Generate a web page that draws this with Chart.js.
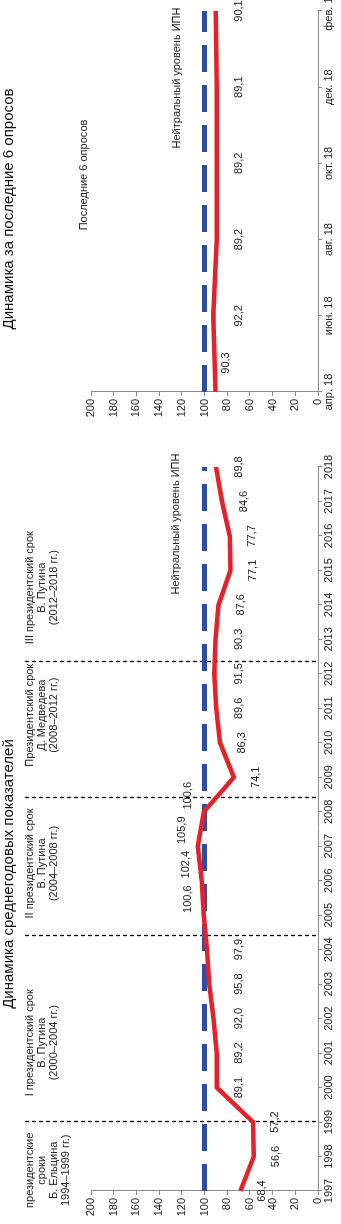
<!DOCTYPE html>
<html>
<head>
<meta charset="utf-8">
<script src="https://cdn.jsdelivr.net/npm/chart.js@4.4.1/dist/chart.umd.min.js"></script>
<style>
html, body { margin: 0; padding: 0; background: #fff; overflow: hidden; }
/* the sheet is laid out landscape and turned a quarter to the left */
#sheet { position: absolute; left: 0; top: 0; width: 1224px; height: 341px;
  transform-origin: 0 0; transform: translate(0, 1224px) rotate(-90deg); background: #fff; }
#sheet canvas { position: absolute; top: 0; }
</style>
</head>
<body>
<div id="sheet">
  <canvas id="yearly" width="780" height="341" style="left:0"></canvas>
  <canvas id="recent" width="444" height="341" style="left:780px"></canvas>
</div>
<script>
// среднегодовые значения ИПН
var years = ['1997','1998','1999','2000','2001','2002','2003','2004','2005','2006','2007',
             '2008','2009','2010','2011','2012','2013','2014','2015','2016','2017','2018'];
var yearValues = [68.4, 56.6, 57.2, 89.1, 89.2, 92.0, 95.8, 97.9, 100.6, 102.4, 105.9,
                  100.6, 74.1, 86.3, 89.6, 91.5, 90.3, 87.6, 77.1, 77.7, 84.6, 89.8];
var yearNeutral = [100, 100, 100, 100, 100, 100, 100, 100, 100, 100, 100,
                   100, 100, 100, 100, 100, 100, 100, 100, 100, 100, 100];

// последние 6 опросов
var polls = ['апр. 18', 'июн. 18', 'авг. 18', 'окт. 18', 'дек. 18', 'фев. 18'];
var pollValues = [90.3, 92.2, 89.2, 89.2, 89.1, 90.1];
var pollNeutral = [100, 100, 100, 100, 100, 100];

var yTicks = [0, 20, 40, 60, 80, 100, 120, 140, 160, 180, 200];

// президентские сроки
var termLabels = [
  ['президентские', 'сроки', 'Б. Ельцина', '1994–1999 гг.)'],
  ['I президентский срок', 'В. Путина', '(2000–2004 гг.)'],
  ['II президентский срок', 'В. Путина', '(2004–2008 гг.)'],
  ['Президентский срок', 'Д. Медведева', '(2008–2012 гг.)'],
  ['III президентский срок', 'В. Путина', '(2012–2018 гг.)']
];
var termBounds = [1999, 2004.4, 2008.4, 2012.35];

var titleYearly = 'Динамика среднегодовых показателей';
var titleRecent = 'Динамика за последние 6 опросов';
var noteRecent = 'Последние 6 опросов';
var noteNeutral = 'Нейтральный уровень ИПН';

var FONT = '"Liberation Sans", Arial, sans-serif';
var RED = '#e6212a';
var BLUE = '#2d4e9e';
var AXIS = '#8a8a8a';

Chart.defaults.font.family = FONT;
Chart.defaults.font.size = 11;
Chart.defaults.color = '#222';

function fmt(v) { return v.toFixed(1).replace('.', ','); }

// dashed separators, value labels and free text
var overlay = {
  id: 'overlay',
  beforeDatasetsDraw: function(chart, args, o) {
    if (!o.bounds) return;
    var ctx = chart.ctx, sx = chart.scales.x, bottom = chart.chartArea.bottom;
    ctx.save();
    ctx.strokeStyle = '#000';
    ctx.lineWidth = 1.3;
    ctx.setLineDash([4, 3]);
    o.bounds.forEach(function(b) {
      var px = Math.round(sx.getPixelForValue(b)) + 0.5;
      ctx.beginPath();
      ctx.moveTo(px, 25);
      ctx.lineTo(px, bottom);
      ctx.stroke();
    });
    ctx.restore();
  },
  afterDatasetsDraw: function(chart, args, o) {
    var ctx = chart.ctx;
    var meta = chart.getDatasetMeta(0);
    var vals = chart.data.datasets[0].data;
    var floor = chart.scales.y.getPixelForValue(100) + 34;
    ctx.save();
    ctx.fillStyle = '#222';
    ctx.font = '11px ' + FONT;
    ctx.textAlign = 'center';
    ctx.textBaseline = 'middle';
    meta.data.forEach(function(pt, i) {
      var x = pt.x, y;
      if (o.above && o.above.indexOf(i) >= 0) {
        x += 16; y = pt.y - 16;
      } else if (o.nudge && o.nudge[i]) {
        x += o.nudge[i][0]; y = pt.y + o.nudge[i][1];
      } else {
        y = Math.max(pt.y + 22, floor);
      }
      ctx.fillText(fmt(vals[i]), x, y);
    });
    (o.texts || []).forEach(function(t) {
      ctx.font = (t.size || 11) + 'px ' + FONT;
      ctx.fillStyle = t.color || '#222';
      var lines = [].concat(t.text);
      lines.forEach(function(line, k) {
        ctx.fillText(line, t.x, t.y + k * 12);
      });
    });
    ctx.restore();
  }
};

function axes(xLabels) {
  return {
    x: {
      type: 'category',
      labels: xLabels,
      offset: false,
      grid: { drawOnChartArea: false, drawTicks: true, tickLength: 4, color: AXIS },
      border: { color: AXIS, width: 1 },
      ticks: { autoSkip: false, maxRotation: 0, minRotation: 0, padding: 0, color: '#222' },
      afterFit: function(s) { s.height = 23; s.paddingLeft = 0; s.paddingRight = 0; }
    },
    y: {
      min: 0, max: 200,
      grid: { drawOnChartArea: false, drawTicks: true, tickLength: 4, color: AXIS },
      border: { color: AXIS, width: 1 },
      ticks: { padding: 3, color: '#222' },
      afterBuildTicks: function(s) { s.ticks = yTicks.map(function(v) { return { value: v }; }); },
      afterFit: function(s) { s.width = 33; s.paddingTop = 0; s.paddingBottom = 0; }
    }
  };
}

function series(values, neutral) {
  return [{
    data: values,
    borderColor: RED,
    borderWidth: 4.5,
    pointRadius: 0,
    tension: 0,
    fill: false
  }, {
    data: neutral,
    borderColor: BLUE,
    borderWidth: 5,
    borderDash: [27, 13],
    borderCapStyle: 'butt',
    pointRadius: 0,
    tension: 0,
    fill: false
  }];
}

var yearlyTexts = [
  { text: titleYearly, x: 350, y: 9, size: 15, color: '#111' },
  { text: noteNeutral, x: 700, y: 176 }
];
var termCentres = [1997.6, 2001.3, 2006.5, 2010.8, 2014.5];

var yearly = new Chart(document.getElementById('yearly'), {
  type: 'line',
  data: { labels: years, datasets: series(yearValues, yearNeutral) },
  options: {
    responsive: false,
    animation: false,
    layout: { padding: { top: 91, right: 23, left: 0, bottom: 0 } },
    scales: axes(years),
    plugins: {
      legend: { display: false },
      tooltip: { enabled: false },
      overlay: {
        bounds: termBounds.map(function(b) { return b - 1997; }),
        above: [8, 9, 10, 11],
        texts: yearlyTexts
      }
    }
  },
  plugins: [overlay]
});

// term captions need the x scale, so add them once it exists
termLabels.forEach(function(lines, i) {
  yearlyTexts.push({ text: lines, x: yearly.scales.x.getPixelForValue(termCentres[i] - 1997), y: 30 });
});
yearly.update();

var recent = new Chart(document.getElementById('recent'), {
  type: 'line',
  data: { labels: polls, datasets: series(pollValues, pollNeutral) },
  options: {
    responsive: false,
    animation: false,
    layout: { padding: { top: 91, right: 11, left: 19, bottom: 0 } },
    scales: axes(polls),
    plugins: {
      legend: { display: false },
      tooltip: { enabled: false },
      overlay: {
        nudge: { 0: [29, 10] },
        texts: [
          { text: titleRecent, x: 235, y: 9, size: 15, color: '#111' },
          { text: noteRecent, x: 269, y: 84 },
          { text: noteNeutral, x: 366, y: 177 }
        ]
      }
    }
  },
  plugins: [overlay]
});
</script>
</body>
</html>
